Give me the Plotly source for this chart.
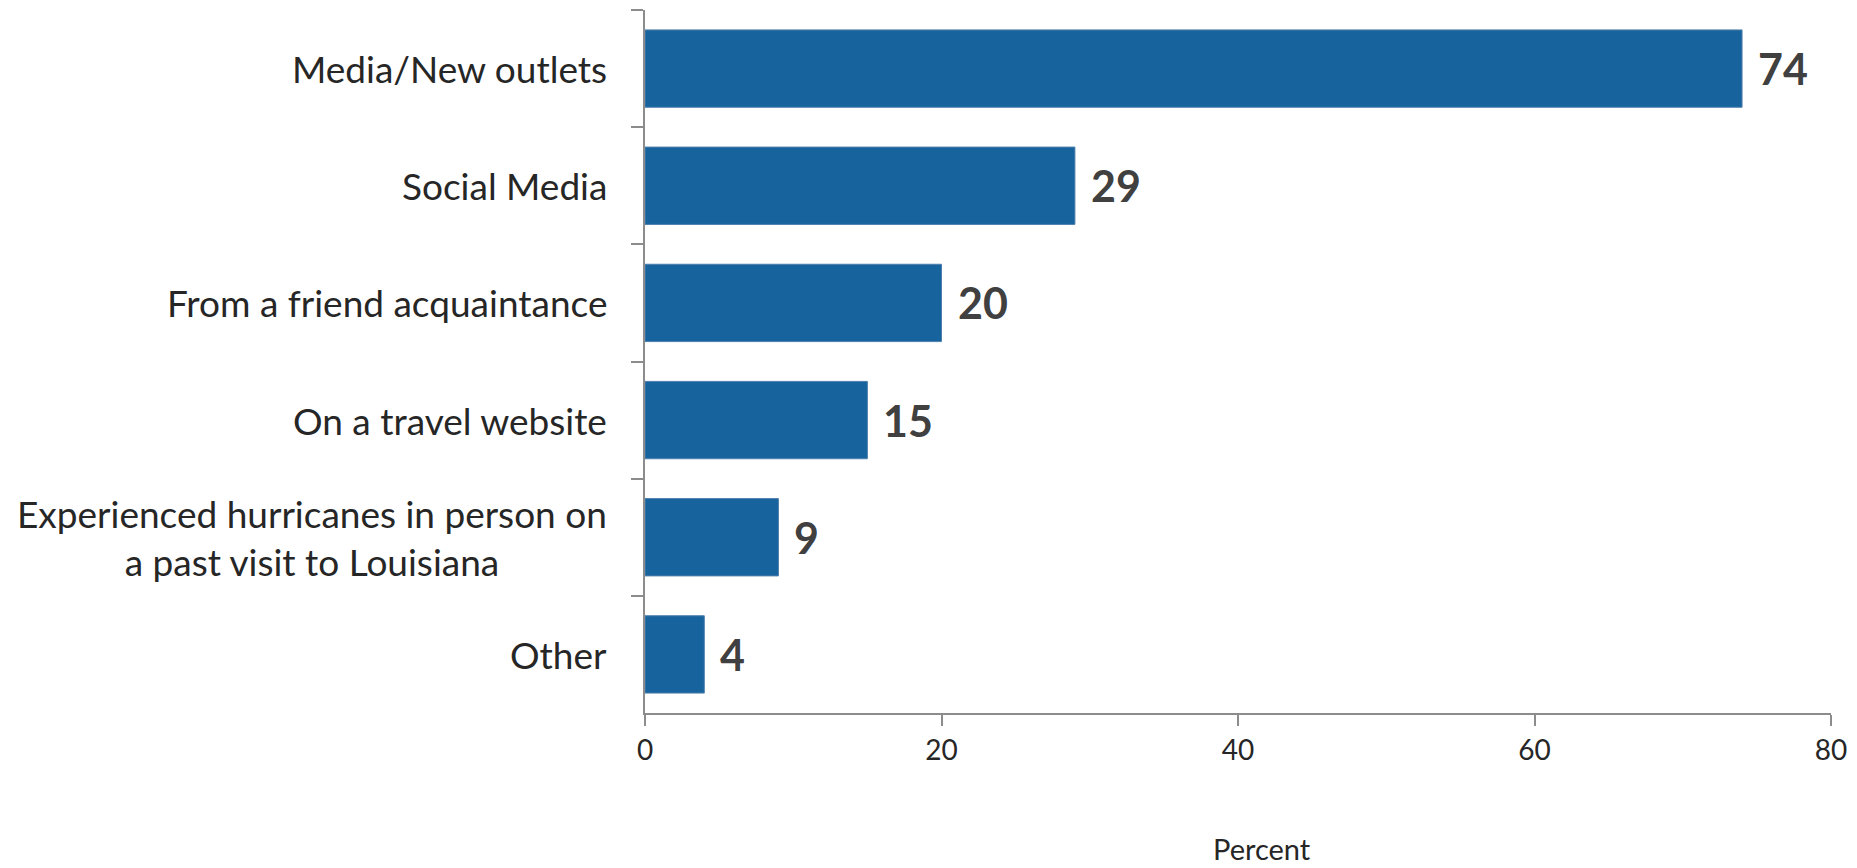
import plotly.graph_objects as go

# Survey responses: where respondents heard about the hurricanes
categories = [
    "Media/New outlets",
    "Social Media",
    "From a friend acquaintance",
    "On a travel website",
    "Experienced hurricanes in person on<br>a past visit to Louisiana",
    "Other",
]
percent = [74, 29, 20, 15, 9, 4]
x_ticks = [0, 20, 40, 60, 80]

BAR_COLOR = "#16639E"
AXIS_COLOR = "#8C8C8C"
TEXT_COLOR = "#262626"
LABEL_COLOR = "#404040"
FONT = "Lato, 'Open Sans', sans-serif"

PLOT_TOP, PLOT_BOTTOM = 10, 713

fig = go.Figure(
    go.Bar(
        x=percent,
        y=categories,
        orientation="h",
        width=0.66,
        marker=dict(color=BAR_COLOR, line=dict(color="#4F7FAD", width=1)),
        hoverinfo="skip",
    )
)

# Value labels just past the end of each bar
for cat, val in zip(categories, percent):
    fig.add_annotation(
        x=val, xref="x", xanchor="left", xshift=14,
        y=cat, yref="y", yanchor="middle",
        text=f"<b>{val}</b>", showarrow=False,
        font=dict(family=FONT, size=43, color=LABEL_COLOR),
    )

# Category labels, right-aligned against the axis, multi-line text centred
for cat in categories:
    fig.add_annotation(
        x=0, xref="paper", xanchor="right", xshift=-36,
        y=cat, yref="y", yanchor="middle",
        text=cat, showarrow=False, align="center",
        font=dict(family=FONT, size=37, color=TEXT_COLOR),
    )

# Axis title placed below the tick labels
fig.add_annotation(
    x=0.52, xref="paper", xanchor="center",
    y=-(848 - PLOT_BOTTOM) / (PLOT_BOTTOM - PLOT_TOP), yref="paper",
    yanchor="middle",
    text="Percent", showarrow=False,
    font=dict(family=FONT, size=29, color=TEXT_COLOR),
)

fig.update_layout(
    width=1857, height=868,
    margin=dict(l=645, r=21, t=PLOT_TOP, b=868 - PLOT_BOTTOM),
    paper_bgcolor="white", plot_bgcolor="white",
    showlegend=False,
    xaxis=dict(
        range=[0, 80], tickvals=x_ticks, ticktext=[str(v) for v in x_ticks],
        showgrid=False, zeroline=False,
        showline=True, linecolor=AXIS_COLOR, linewidth=2,
        ticks="outside", ticklen=11, tickwidth=2, tickcolor=AXIS_COLOR,
        tickfont=dict(family=FONT, size=28, color=TEXT_COLOR),
        fixedrange=True,
    ),
    yaxis=dict(
        autorange="reversed", showgrid=False, zeroline=False,
        showline=True, linecolor=AXIS_COLOR, linewidth=2,
        ticks="outside", ticklen=12, tickwidth=2, tickcolor=AXIS_COLOR,
        tickson="boundaries", showticklabels=False,
        fixedrange=True,
    ),
)

fig.write_html("out.html")
